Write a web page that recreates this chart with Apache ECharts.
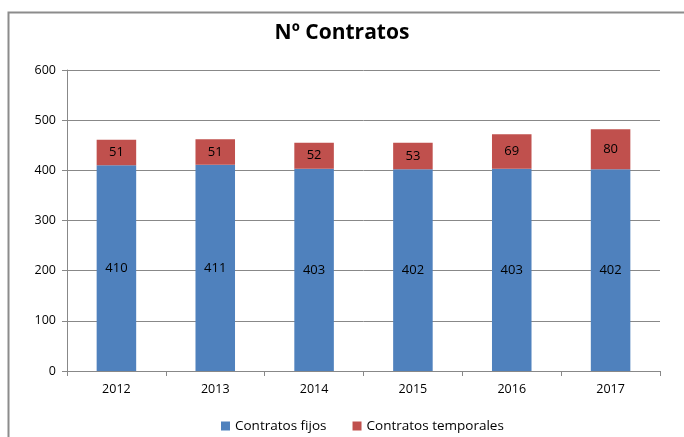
<!DOCTYPE html>
<html>
<head>
<meta charset="utf-8">
<script src="https://cdn.jsdelivr.net/npm/echarts@6/dist/echarts.min.js"></script>
<style>
  html, body { margin: 0; padding: 0; background: #fff; }
  #main { width: 684px; height: 437px; }
</style>
</head>
<body>
<div id="main"></div>
<script>
const years = ["2012", "2013", "2014", "2015", "2016", "2017"];
const fijos = [410, 411, 403, 402, 403, 402];
const temporales = [51, 51, 52, 53, 69, 80];

const chart = echarts.init(document.getElementById("main"));

const labelStyle = {
  show: true,
  position: "inside",
  color: "#000",
  fontFamily: "Open Sans",
  fontSize: 13
};

chart.setOption({
  backgroundColor: "#fff",
  animation: false,
  title: {
    text: "Nº Contratos",
    left: "center",
    top: 18,
    textStyle: { fontFamily: "Open Sans", fontWeight: "bold", fontSize: 21, color: "#000" }
  },
  // marco gris alrededor del gráfico
  graphic: [{
    type: "rect",
    shape: { x: 8.5, y: 12.5, width: 700, height: 460 },
    style: { fill: "none", stroke: "#8c8c8c", lineWidth: 2 },
    silent: true
  }],
  legend: {
    bottom: -1,
    left: 216,
    itemWidth: 9,
    itemHeight: 9,
    itemGap: 26,
    icon: "rect",
    textStyle: { fontFamily: "Open Sans", fontSize: 13.5, color: "#000" },
    data: ["Contratos fijos", "Contratos temporales"]
  },
  grid: { left: 67, right: 24, top: 70, bottom: 66 },
  xAxis: {
    type: "category",
    data: years,
    axisLine: { lineStyle: { color: "#888" } },
    axisTick: { show: true, alignWithLabel: false, length: 5, lineStyle: { color: "#888" } },
    axisLabel: { color: "#000", fontFamily: "Open Sans", fontSize: 12.5, margin: 12 }
  },
  yAxis: {
    type: "value",
    min: 0,
    max: 600,
    interval: 100,
    axisLine: { show: true, lineStyle: { color: "#888" } },
    axisTick: { show: true, length: 5, lineStyle: { color: "#888" } },
    axisLabel: { color: "#000", fontFamily: "Open Sans", fontSize: 12.5, margin: 11 },
    splitLine: { lineStyle: { color: "#888" } }
  },
  series: [
    {
      name: "Contratos fijos",
      type: "bar",
      stack: "total",
      barWidth: "40%",
      itemStyle: { color: "#4f81bd" },
      label: labelStyle,
      data: fijos
    },
    {
      name: "Contratos temporales",
      type: "bar",
      stack: "total",
      barWidth: "40%",
      itemStyle: { color: "#c0504d" },
      label: labelStyle,
      data: temporales
    }
  ]
});
</script>
</body>
</html>
